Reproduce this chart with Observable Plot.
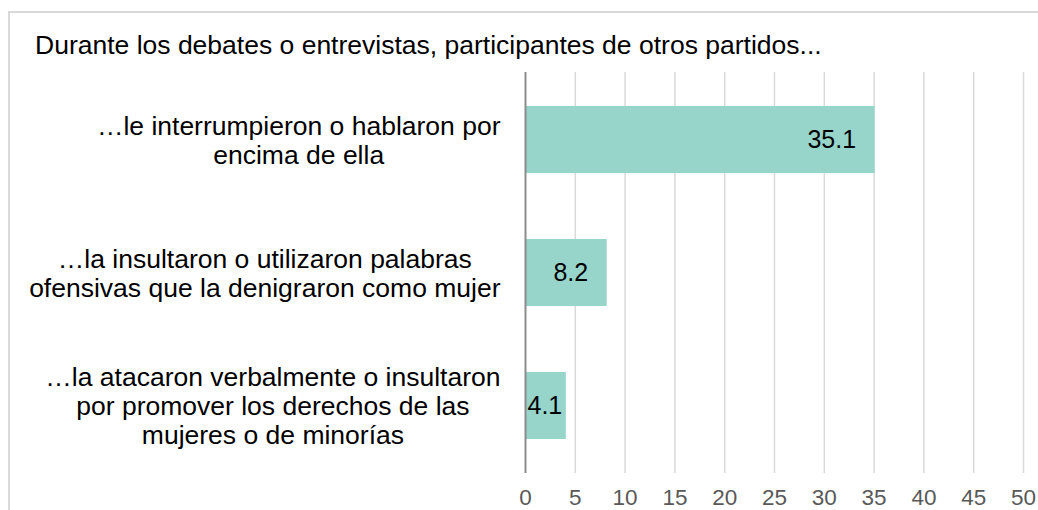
<!DOCTYPE html>
<html>
<head>
<meta charset="utf-8">
<script src="https://cdn.jsdelivr.net/npm/d3@7"></script>
<script src="https://cdn.jsdelivr.net/npm/@observablehq/plot@0.6"></script>
<style>
  html, body { margin: 0; padding: 0; background: #fff; }
  #wrap { position: relative; width: 1038px; height: 510px; overflow: hidden; font-family: "Liberation Sans", Arial, sans-serif; }
  #border { position: absolute; left: 8px; top: 11px; width: 1100px; height: 600px; border: 2px solid #d9d9d9; box-sizing: border-box; }
  #title { position: absolute; left: 35px; top: 30px; font-size: 26.5px; line-height: 30px; color: #000; white-space: nowrap; }
  #chart { position: absolute; left: 0; top: 0; }
</style>
</head>
<body>
<div id="wrap">
  <div id="border"></div>
  <div id="title"></div>
  <div id="chart"></div>
</div>
<script>
const titleText = "Durante los debates o entrevistas, participantes de otros partidos...";
const categories = [
  "…le interrumpieron o hablaron por\nencima de ella",
  "…la insultaron o utilizaron palabras\nofensivas que la denigraron como mujer",
  "…la atacaron verbalmente o insultaron\npor promover los derechos de las\nmujeres o de minorías"
];
const values = [35.1, 8.2, 4.1];
const xTicks = [0, 5, 10, 15, 20, 25, 30, 35, 40, 45, 50];

document.getElementById("title").textContent = titleText;

const data = categories.map((c, i) => ({category: c, value: values[i]}));

const FONT = "Liberation Sans, Arial, sans-serif";
const labelSize = 26.5;
const valueSize = 25;
const ctx = document.createElement("canvas").getContext("2d");
ctx.font = `${labelSize}px "Liberation Sans"`;
const blockWidth = c => Math.max(...c.split("\n").map(l => ctx.measureText(l).width));

const marginLeft = 525;
const labelRightGap = 25;

const labelMarks = data.map(d =>
  Plot.text([d], {
    y: "category",
    text: "category",
    frameAnchor: "left",
    textAnchor: "middle",
    dx: -(labelRightGap + blockWidth(d.category) / 2),
    lineHeight: 29 / labelSize,
    fontSize: labelSize,
    fill: "#000"
  })
);

const chart = Plot.plot({
  width: 1038,
  height: 510,
  marginLeft,
  marginRight: 15,
  marginTop: 72,
  marginBottom: 37,
  style: {fontFamily: FONT, background: "transparent"},
  x: {domain: [0, 50], ticks: xTicks, label: null},
  y: {domain: categories, padding: 0.5, paddingOuter: 0.25, axis: null},
  marks: [
    Plot.ruleX(xTicks.filter(t => t !== 0), {stroke: "#d9d9d9", strokeWidth: 1.5}),
    Plot.barX(data, {x: "value", y: "category", fill: "#97d5cb"}),
    Plot.ruleX([0], {stroke: "#8c8c8c", strokeWidth: 2}),
    Plot.axisX({ticks: xTicks, tickSize: 0, tickPadding: 16, fontSize: 22.5, color: "#595959", label: null}),
    Plot.text(data.filter(d => d.value >= 6), {x: "value", y: "category", text: d => d.value.toFixed(1), textAnchor: "end", dx: -19, fontSize: valueSize, fill: "#000"}),
    Plot.text(data.filter(d => d.value < 6), {x: 0, y: "category", text: d => d.value.toFixed(1), textAnchor: "start", dx: 2, fontSize: valueSize, fill: "#000"}),
    ...labelMarks
  ]
});
document.getElementById("chart").appendChild(chart);
</script>
</body>
</html>
